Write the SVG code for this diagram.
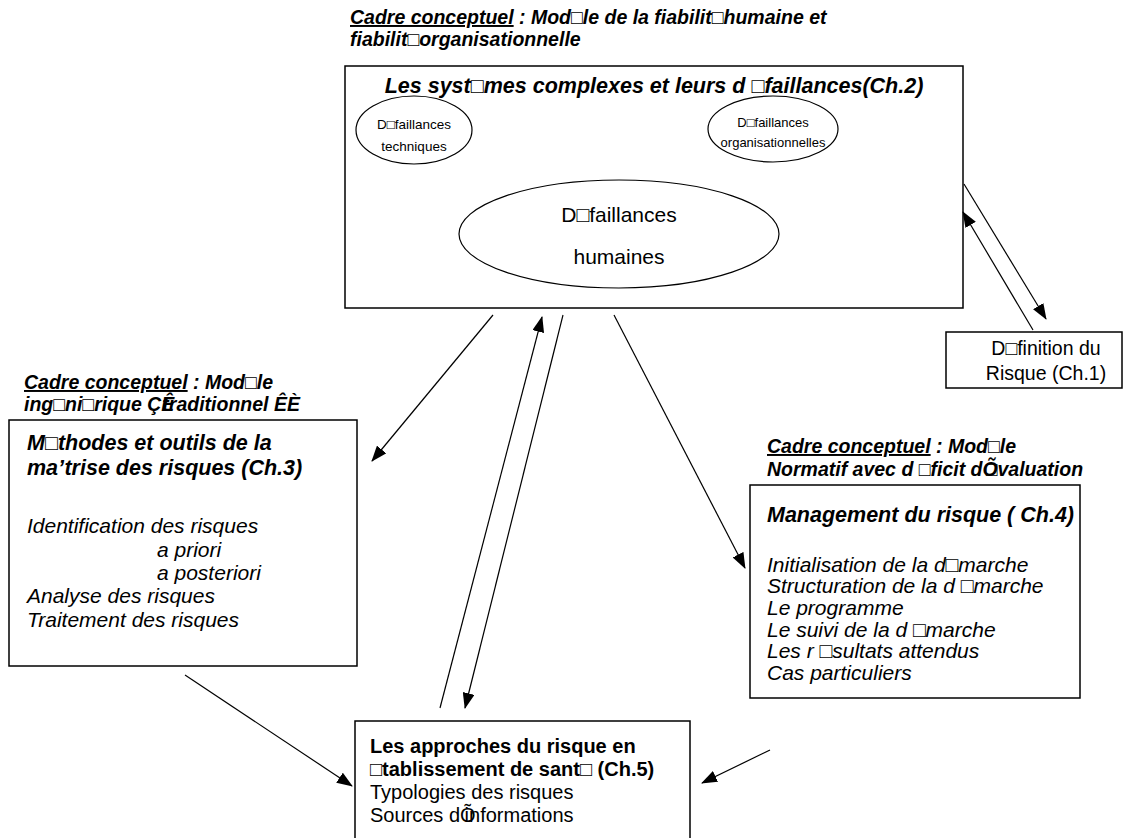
<svg xmlns="http://www.w3.org/2000/svg" width="1143" height="838" viewBox="0 0 1143 838">
<defs>
<marker id="ah" markerWidth="16" markerHeight="12" refX="15" refY="6" orient="auto" markerUnits="userSpaceOnUse">
<path d="M0,0 L16,6 L0,12 Z" fill="#000"/>
</marker>
<style>
text{font-family:"Liberation Sans",Arial,sans-serif;fill:#000}
.lbl{font-size:19.5px;font-weight:bold;font-style:italic}
.u{text-decoration:underline}
.tt{font-size:21.5px;font-weight:bold;font-style:italic}
.it{font-size:21px;font-style:italic}
.box{fill:#fff;stroke:#000;stroke-width:1.5}
.ell{fill:none;stroke:#000;stroke-width:1.2}
.s{font-size:13.5px}
.s2{font-size:13px}
.m{font-size:21px}
.d{font-size:19.5px}
.ab{font-size:20px;font-weight:bold}
.ar{font-size:20px}
.c{stroke:#000;stroke-width:1.2;fill:none;marker-end:url(#ah)}
</style>
</defs>
<rect width="1143" height="838" fill="#fff"/>

<g id="label-top">
<text class="lbl" x="350" y="24"><tspan class="u">Cadre conceptuel</tspan> : Mod□le de la fiabilit□humaine et</text>
<text class="lbl" x="350" y="46">fiabilit□organisationnelle</text>
</g>

<g id="systemes">
<rect class="box" x="345" y="66" width="618" height="242"/>
<text class="tt" x="654" y="93" text-anchor="middle">Les syst□mes complexes et leurs d □faillances(Ch.2)</text>
</g>
<g id="def-tech">
<ellipse class="ell" cx="414" cy="130" rx="58" ry="34"/>
<text class="s" x="414" y="129" text-anchor="middle">D□faillances</text>
<text class="s" x="414" y="151" text-anchor="middle">techniques</text>
</g>
<g id="def-org">
<ellipse class="ell" cx="773" cy="129" rx="65" ry="33"/>
<text class="s2" x="773" y="127" text-anchor="middle">D□faillances</text>
<text class="s2" x="773" y="147" text-anchor="middle">organisationnelles</text>
</g>
<g id="def-hum">
<ellipse class="ell" cx="619" cy="234" rx="160" ry="54"/>
<text class="m" x="619" y="222" text-anchor="middle">D□faillances</text>
<text class="m" x="619" y="264" text-anchor="middle">humaines</text>
</g>

<g id="definition">
<rect class="box" x="946" y="332" width="176" height="56"/>
<text class="d" x="1046" y="355" text-anchor="middle">D□finition du</text>
<text class="d" x="1046" y="380" text-anchor="middle">Risque (Ch.1)</text>
</g>

<g id="label-left">
<text class="lbl" x="24" y="389"><tspan class="u">Cadre conceptuel</tspan> : Mod□le</text>
<text class="lbl" x="24" y="411">ing□ni□rique ÇÊ<tspan dx="-12">traditionnel</tspan> ÊÈ</text>
</g>

<g id="methodes">
<rect class="box" x="9" y="420" width="348" height="246"/>
<text class="tt" x="27" y="450">M□thodes et outils de la</text>
<text class="tt" x="27" y="475">ma’trise des risques (Ch.3)</text>
<text class="it" x="27" y="533">Identification des risques</text>
<text class="it" x="157" y="557">a priori</text>
<text class="it" x="157" y="580">a posteriori</text>
<text class="it" x="27" y="603">Analyse des risques</text>
<text class="it" x="27" y="627">Traitement des risques</text>
</g>

<g id="label-right">
<text class="lbl" x="767" y="453"><tspan class="u">Cadre conceptuel</tspan> : Mod□le</text>
<text class="lbl" x="767" y="476">Normatif avec d □ficit dÕ<tspan dx="-12">□valuation</tspan></text>
</g>

<g id="management">
<rect class="box" x="750" y="485" width="330" height="213"/>
<text class="tt" x="767" y="522">Management du risque ( Ch.4)</text>
<text class="it" x="767" y="572">Initialisation de la d□marche</text>
<text class="it" x="767" y="593">Structuration de la d □marche</text>
<text class="it" x="767" y="615">Le programme</text>
<text class="it" x="767" y="637">Le suivi de la d □marche</text>
<text class="it" x="767" y="658">Les r □sultats attendus</text>
<text class="it" x="767" y="680">Cas particuliers</text>
</g>

<g id="approches">
<rect class="box" x="355" y="721" width="335" height="140"/>
<text class="ab" x="370" y="753">Les approches du risque en</text>
<text class="ab" x="370" y="776">□tablissement de sant□ (Ch.5)</text>
<text class="ar" x="370" y="799">Typologies des risques</text>
<text class="ar" x="370" y="822">Sources dÕ<tspan dx="-11">informations</tspan></text>
</g>

<g id="connectors">
<line class="c" x1="964" y1="184" x2="1046" y2="319"/>
<line class="c" x1="1033" y1="330" x2="963" y2="212"/>
<line class="c" x1="493" y1="315" x2="372" y2="461"/>
<line class="c" x1="440" y1="708" x2="542" y2="317"/>
<line class="c" x1="563" y1="315" x2="465" y2="708"/>
<line class="c" x1="614" y1="315" x2="745" y2="568"/>
<line class="c" x1="185" y1="675" x2="352" y2="786"/>
<line class="c" x1="770" y1="750" x2="702" y2="783"/>
</g>
</svg>
